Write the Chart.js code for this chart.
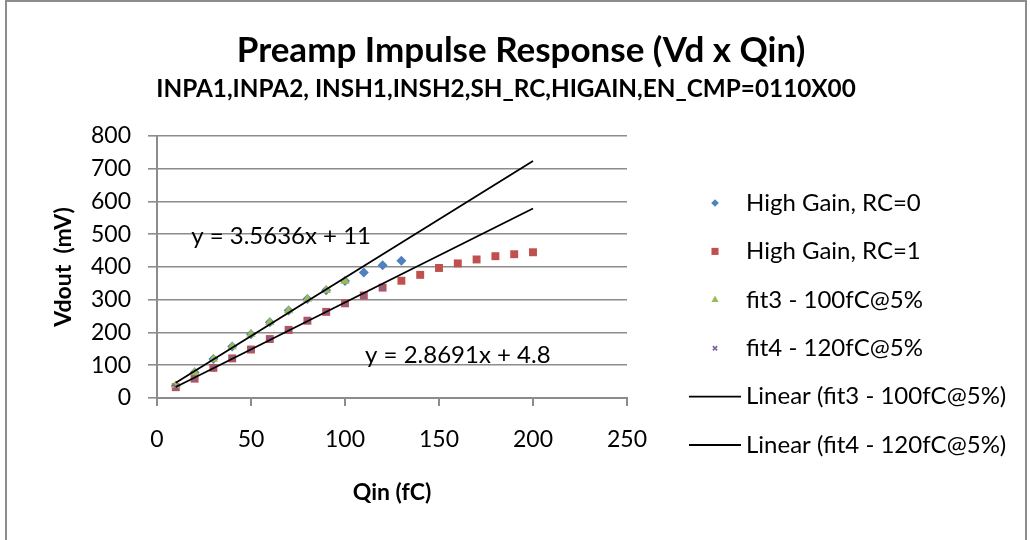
<!DOCTYPE html>
<html>
<head>
<meta charset="utf-8">
<script src="https://cdn.jsdelivr.net/npm/chart.js@4.4.1/dist/chart.umd.min.js"></script>
<style>
  html, body { margin: 0; padding: 0; background: #ffffff; }
  #wrap { position: relative; width: 1030px; height: 540px; overflow: hidden; background: #ffffff; }
  #frame { position: absolute; left: 5px; top: 0; width: 1022px; height: 600px;
           border: 2px solid #8c8c8c; box-sizing: border-box; pointer-events: none; }
  canvas { position: absolute; left: 0; top: 0; }
</style>
</head>
<body>
<div id="wrap">
  <canvas id="chart" width="1030" height="540"></canvas>
  <div id="frame"></div>
</div>
<script>
// Measured preamp output (mV) against injected charge (fC)
const qinRC0   = [10, 20, 30, 40, 50, 60, 70, 80, 90, 100, 110, 120, 130];
const vdoutRC0 = [37, 78, 119, 157, 195, 231, 267, 302, 329, 357, 383, 405, 419];

const qinRC1   = [10, 20, 30, 40, 50, 60, 70, 80, 90, 100, 110, 120, 130, 140, 150, 160, 170, 180, 190, 200];
const vdoutRC1 = [33, 59, 92, 121, 148, 180, 208, 236, 263, 289, 313, 337, 358, 376, 397, 411, 423, 433, 439, 445];

// Points used for the linear fits (up to 100 fC and 120 fC)
const qinFit3   = [10, 20, 30, 40, 50, 60, 70, 80, 90, 100];
const vdoutFit3 = [37, 78, 119, 157, 195, 231, 267, 302, 329, 357];
const qinFit4   = [10, 20, 30, 40, 50, 60, 70, 80, 90, 100, 110, 120];
const vdoutFit4 = [33, 59, 92, 121, 148, 180, 208, 236, 263, 289, 313, 337];

// Linear trendline coefficients and the charge range they are drawn over
const fit3Slope = 3.5636, fit3Intercept = 11;
const fit4Slope = 2.8691, fit4Intercept = 4.8;
const trendQin = [10, 200];

// Axis ranges
const xTickMin = 0, xTickMax = 250, xTickStep = 50;
const yTickMin = 0, yTickMax = 800, yTickStep = 100;

const seriesNames = ['High Gain, RC=0', 'High Gain, RC=1', 'fit3 - 100fC@5%', 'fit4 - 120fC@5%',
                     'Linear (fit3 - 100fC@5%)', 'Linear (fit4 - 120fC@5%)'];
const titleText = 'Preamp Impulse Response (Vd x Qin)';
const subtitleText = 'INPA1,INPA2, INSH1,INSH2,SH_RC,HIGAIN,EN_CMP=0110X00';

const BLUE = '#4F81BD', RED = '#C0504D', GREEN = '#9BBB59', PURPLE = '#8064A2';
const FONT = 'Lato, "Open Sans", sans-serif';
const GRID = '#8c8c8c';

const pairs = (xs, ys) => xs.map((x, i) => ({ x: x, y: ys[i] }));
const trend = (m, b) => trendQin.map(x => ({ x: x, y: m * x + b }));
const eqText = (m, b) => 'y = ' + m + 'x + ' + b;

Chart.defaults.font.family = FONT;
Chart.defaults.color = '#000000';

const datasets = [
  { label: seriesNames[0], data: pairs(qinRC0, vdoutRC0), showLine: false, order: 6,
    pointStyle: 'rectRot', pointRadius: 5, pointBackgroundColor: BLUE, pointBorderWidth: 0,
    backgroundColor: BLUE, borderColor: BLUE },
  { label: seriesNames[1], data: pairs(qinRC1, vdoutRC1), showLine: false, order: 5,
    pointStyle: 'rect', pointRadius: 5.6, pointBackgroundColor: RED, pointBorderWidth: 0,
    backgroundColor: RED, borderColor: RED },
  { label: seriesNames[2], data: pairs(qinFit3, vdoutFit3), showLine: false, order: 4,
    pointStyle: 'triangle', pointRadius: 5.4, pointBackgroundColor: GREEN, pointBorderWidth: 0,
    backgroundColor: GREEN, borderColor: GREEN },
  { label: seriesNames[3], data: pairs(qinFit4, vdoutFit4), showLine: false, order: 3,
    pointStyle: 'crossRot', pointRadius: 3.6, pointBorderColor: PURPLE, pointBorderWidth: 1.8,
    backgroundColor: PURPLE, borderColor: PURPLE },
  { label: seriesNames[4], data: trend(fit3Slope, fit3Intercept), showLine: true, order: 2,
    borderColor: '#000000', borderWidth: 1.8, pointRadius: 0, fill: false },
  { label: seriesNames[5], data: trend(fit4Slope, fit4Intercept), showLine: true, order: 1,
    borderColor: '#000000', borderWidth: 1.8, pointRadius: 0, fill: false }
];

// Legend marker look for each series
const legendStyle = [
  { kind: 'point', pointStyle: 'rectRot', radius: 3.8, fill: BLUE },
  { kind: 'point', pointStyle: 'rect', radius: 5, fill: RED },
  { kind: 'point', pointStyle: 'triangle', radius: 4.2, fill: GREEN },
  { kind: 'cross', pointStyle: 'crossRot', radius: 3, stroke: PURPLE },
  { kind: 'line', stroke: '#000000' },
  { kind: 'line', stroke: '#000000' }
];

const decorations = {
  id: 'decorations',
  afterDraw(chart) {
    const ctx = chart.ctx;
    const xs = chart.scales.x, ys = chart.scales.y;
    ctx.save();

    // Titles
    ctx.fillStyle = '#000000';
    ctx.textAlign = 'center';
    ctx.textBaseline = 'alphabetic';
    ctx.font = 'bold 35px ' + FONT;
    ctx.fillText(titleText, 521, 62);
    ctx.font = 'bold 24.3px ' + FONT;
    ctx.fillText(subtitleText, 506, 97);

    // Trendline equations
    ctx.font = '24px ' + FONT;
    ctx.textBaseline = 'middle';
    ctx.fillText(eqText(fit3Slope, fit3Intercept), xs.getPixelForValue(66), ys.getPixelForValue(494));
    ctx.fillText(eqText(fit4Slope, fit4Intercept), xs.getPixelForValue(160), ys.getPixelForValue(131));

    // Legend
    const lineX0 = 689, lineW = 52, markX = lineX0 + lineW / 2, textX = 746;
    const rowY0 = 203, rowStep = 48.4;
    ctx.textAlign = 'left';
    ctx.font = '24px ' + FONT;
    seriesNames.forEach((name, i) => {
      const y = rowY0 + i * rowStep;
      const st = legendStyle[i];
      if (st.kind === 'line') {
        ctx.strokeStyle = st.stroke;
        ctx.lineWidth = 1.8;
        ctx.beginPath();
        ctx.moveTo(lineX0, y);
        ctx.lineTo(lineX0 + lineW, y);
        ctx.stroke();
      } else {
        ctx.fillStyle = st.fill || 'transparent';
        ctx.strokeStyle = st.stroke || st.fill;
        ctx.lineWidth = 1.7;
        Chart.helpers.drawPoint(ctx, {
          pointStyle: st.pointStyle, radius: st.radius, rotation: 0,
          borderWidth: st.kind === 'cross' ? 1.7 : 0
        }, markX, y);
      }
      ctx.fillStyle = '#000000';
      ctx.fillText(name, textX, y);
    });
    ctx.restore();
  }
};

new Chart(document.getElementById('chart'), {
  type: 'scatter',
  data: { datasets: datasets },
  options: {
    responsive: false,
    animation: false,
    events: [],
    layout: { padding: { top: 136, left: 0, right: 403, bottom: 0 } },
    plugins: { legend: { display: false }, tooltip: { enabled: false }, title: { display: false } },
    scales: {
      x: {
        type: 'linear', min: xTickMin, max: xTickMax,
        ticks: { stepSize: xTickStep, padding: 20, font: { size: 23 }, color: '#000000', maxRotation: 0 },
        grid: { drawOnChartArea: false, drawTicks: true, tickLength: 8, color: GRID, lineWidth: 2 },
        border: { display: true, color: GRID, width: 2 },
        title: { display: true, text: 'Qin (fC)', font: { size: 23, weight: 'bold' }, color: '#000000',
                 padding: { top: 0, bottom: 34 } },
        afterFit(scale) { scale.height = 142; }
      },
      y: {
        type: 'linear', min: yTickMin, max: yTickMax,
        ticks: { stepSize: yTickStep, padding: 17, font: { size: 23 }, color: '#000000' },
        grid: { drawTicks: true, tickLength: 9, color: GRID, lineWidth: 1.6 },
        border: { display: true, color: GRID, width: 2 },
        title: { display: true, text: 'Vdout  (mV)', font: { size: 23, weight: 'bold' }, color: '#000000',
                 padding: { top: 50, bottom: 0 } },
        afterFit(scale) { scale.width = 157; }
      }
    }
  },
  plugins: [decorations]
});
</script>
</body>
</html>
